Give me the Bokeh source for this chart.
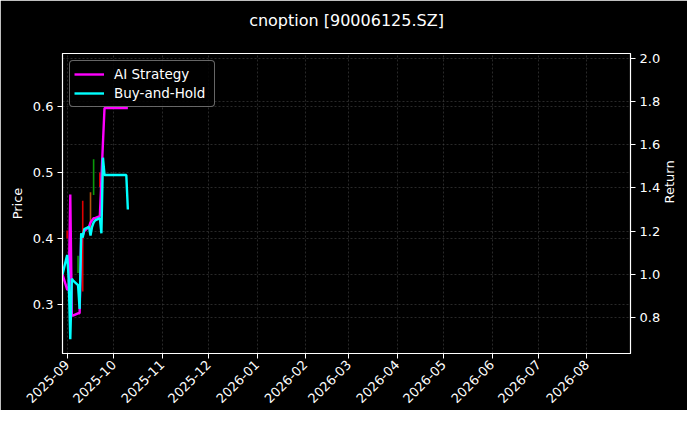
import pandas as pd
from bokeh.plotting import figure
from bokeh.models import (Range1d, LinearAxis, Grid, DatetimeTickFormatter, MonthsTicker,
                          Legend, LegendItem, ColumnDataSource, FixedTicker, PrintfTickFormatter, Title)
from bokeh.transform import factor_cmap
from bokeh.embed import file_html
from bokeh.resources import INLINE
from math import pi

title_text = "cnoption [90006125.SZ]"

dates = ["2025-08-29", "2025-09-01", "2025-09-02", "2025-09-03", "2025-09-04", "2025-09-05",
         "2025-09-08", "2025-09-09", "2025-09-10", "2025-09-11", "2025-09-12",
         "2025-09-15", "2025-09-16", "2025-09-17", "2025-09-18", "2025-09-19",
         "2025-09-22", "2025-09-23", "2025-09-24", "2025-09-25", "2025-09-26",
         "2025-09-29", "2025-09-30", "2025-10-09", "2025-10-10"]
ai_strategy = [1.00, 0.93, 0.93, 1.37, 0.81, 0.81,
               0.82, 0.82, 1.17, 1.18, 1.20,
               1.22, 1.24, 1.25, 1.26, 1.26,
               1.27, 1.44, 1.61, 1.77, 1.77,
               1.77, 1.77, 1.77, 1.77]
buy_hold = [1.00, 1.09, 0.98, 0.70, 0.98, 0.97,
            0.95, 0.84, 1.19, 1.17, 1.21,
            1.22, 1.18, 1.22, 1.24, 1.25,
            1.26, 1.19, 1.54, 1.46, 1.46,
            1.46, 1.46, 1.46, 1.30]

candle_dates = ["2025-09-01", "2025-09-08", "2025-09-11", "2025-09-16", "2025-09-18", "2025-09-22"]
candle_low = [0.400, 0.348, 0.320, 0.414, 0.466, 0.478]
candle_high = [0.412, 0.374, 0.457, 0.470, 0.520, 0.500]
candle_dir = ["down", "up", "down", "flat", "up", "down"]

price_ticks = [0.3, 0.4, 0.5, 0.6]
return_ticks = [0.8, 1.0, 1.2, 1.4, 1.6, 1.8, 2.0]

FONT = "DejaVu Sans"
GRID = "#444444"

p = figure(frame_width=568, frame_height=300, x_axis_type="datetime", output_backend="svg",
           toolbar_location=None,
           x_range=Range1d(pd.Timestamp("2025-08-29"), pd.Timestamp("2026-08-29")),
           y_range=Range1d(0.226, 0.680),
           min_border_left=62, min_border_right=10, min_border_top=10, min_border_bottom=10,
           background_fill_color="black", border_fill_color="black",
           outline_line_color="white", outline_line_width=1.2)
p.extra_y_ranges = {"ret": Range1d(0.634, 2.022)}

p.title.text = title_text
p.title.align = "center"
p.title.text_color = "white"
p.title.text_font = FONT
p.title.text_font_size = "16px"
p.title.text_font_style = "normal"
p.title.standoff = 17

# spacer between the frame and the title
p.add_layout(Title(text=" ", text_font_size="2px", standoff=11, text_color="black"), "above")

# candles
csrc = ColumnDataSource(dict(x=pd.to_datetime(candle_dates), lo=candle_low, hi=candle_high, d=candle_dir))
p.segment(x0="x", x1="x", y0="lo", y1="hi", source=csrc, line_width=1.6,
          line_color=factor_cmap("d", ["#0a9a0a", "#e00000", "#b5540f"], ["up", "down", "flat"]))

src = ColumnDataSource(dict(x=pd.to_datetime(dates), ai=ai_strategy, bh=buy_hold))
r_ai = p.line("x", "ai", source=src, line_color="#ff00ff", line_width=2.4, y_range_name="ret")
r_bh = p.line("x", "bh", source=src, line_color="#00ffff", line_width=2.4, y_range_name="ret")

def style_axis(ax):
    ax.axis_line_color = "white"
    ax.major_tick_line_color = "white"
    ax.major_tick_out = 5
    ax.major_tick_in = 0
    ax.minor_tick_line_color = None
    ax.major_label_text_color = "white"
    ax.major_label_text_font = FONT
    ax.major_label_text_font_size = "13px"
    ax.major_label_standoff = 4
    ax.axis_label_text_color = "white"
    ax.axis_label_text_font = FONT
    ax.axis_label_text_font_size = "13px"
    ax.axis_label_text_font_style = "normal"

# left axis
ly = p.yaxis[0]
ly.ticker = FixedTicker(ticks=price_ticks)
ly.formatter = PrintfTickFormatter(format="%.1f")
ly.axis_label = "Price"
ly.axis_label_standoff = 5
style_axis(ly)

# right axis
ry = LinearAxis(y_range_name="ret", ticker=FixedTicker(ticks=return_ticks),
                formatter=PrintfTickFormatter(format="%.1f"), axis_label="Return")
ry.axis_label_standoff = 6
ry.axis_label_orientation = pi / 2
style_axis(ry)
p.add_layout(ry, "right")

# x axis
xa = p.xaxis[0]
xa.ticker = MonthsTicker(months=list(range(1, 13)))
fmt = "%Y-%m"
xa.formatter = DatetimeTickFormatter(days=fmt, months=fmt, years=fmt)
xa.major_label_orientation = pi / 4
style_axis(xa)

# grids
for g in (p.xgrid[0], p.ygrid[0]):
    g.grid_line_color = GRID
    g.grid_line_dash = "2 2"
    g.grid_line_width = 0.6
p.xgrid[0].ticker = xa.ticker
p.ygrid[0].ticker = ly.ticker
g2 = Grid(dimension=1, ticker=ry.ticker, y_range_name="ret", grid_line_color=GRID,
          grid_line_dash="2 2", grid_line_width=0.6)
p.add_layout(g2)

legend = Legend(items=[LegendItem(label="AI Strategy", renderers=[r_ai]),
                       LegendItem(label="Buy-and-Hold", renderers=[r_bh])],
                location="top_left")
legend.margin = 7
legend.padding = 4
legend.spacing = 1
legend.glyph_width = 30
legend.glyph_height = 18
legend.label_height = 18
legend.label_width = 96
legend.label_standoff = 10
legend.label_text_color = "white"
legend.label_text_font = FONT
legend.label_text_font_size = "13.5px"
legend.background_fill_color = "black"
legend.background_fill_alpha = 0.85
legend.border_line_color = "#cccccc"
legend.border_line_width = 1
legend.border_radius = 4
p.add_layout(legend)

open("out.html", "w").write(file_html(p, INLINE))
